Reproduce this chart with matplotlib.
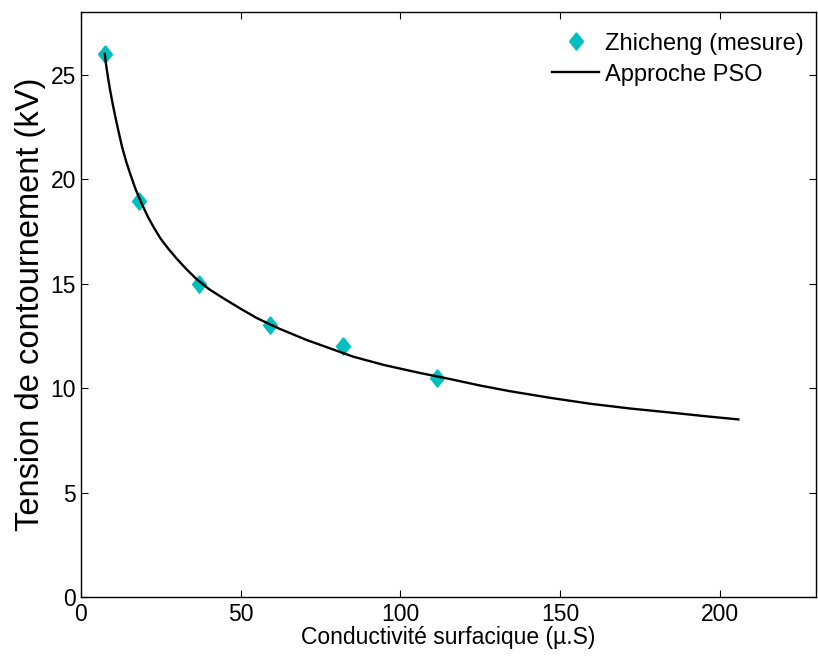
import numpy as np
import matplotlib.pyplot as plt

plt.rcParams['font.family'] = ['Liberation Sans', 'DejaVu Sans']

# mesures Zhicheng
x_mes = [7.5, 18.2, 37.0, 59.2, 82.0, 111.5]
v_mes = [26.0, 18.95, 14.96, 13.0, 12.0, 10.5]

# courbe approche PSO
x_pso = [7.5, 8.0, 8.6, 9.2, 10.0, 10.8, 11.8, 13.0, 14.3, 15.6, 17.2, 19.0,
         21.0, 23.0, 25.0, 27.5, 30.0, 33.0, 36.0, 40.0, 44.6, 50.0, 55.1, 62.0,
         70.7, 78.0, 85.3, 95.0, 106.2, 115.0, 125.0, 134.3, 147.0, 159.4, 172.0,
         184.4, 195.0, 205.7]
v_pso = [26.0, 25.4, 24.8, 24.25, 23.6, 23.0, 22.3, 21.5, 20.8, 20.2, 19.5, 18.85,
         18.2, 17.65, 17.15, 16.65, 16.2, 15.7, 15.25, 14.75, 14.3, 13.8, 13.35, 12.85,
         12.3, 11.9, 11.5, 11.1, 10.72, 10.45, 10.12, 9.85, 9.53, 9.25, 9.02,
         8.83, 8.66, 8.5]

xticks = [0, 50, 100, 150, 200]
yticks = [0, 5, 10, 15, 20, 25]

fig = plt.figure(figsize=(8.18, 6.57), dpi=100)
ax = fig.add_axes([0.0987, 0.0913, 0.8989, 0.8904])

diamond = [(0, 1), (0.8, 0), (0, -1), (-0.8, 0), (0, 1)]
ax.plot(x_mes, v_mes, linestyle='none', marker=diamond, markersize=12.5,
        color='#00bfbf', markeredgecolor='#00bfbf', label='Zhicheng (mesure)')
ax.plot(x_pso, v_pso, color='black', linewidth=1.7, label='Approche PSO')

ax.set_xlim(0, 230)
ax.set_ylim(0, 28)
ax.set_xticks(xticks)
ax.set_yticks(yticks)
ax.tick_params(direction='in', length=5, width=0.8, top=True, right=True,
               labelsize=16.5, pad=4)
ax.tick_params(axis='y', pad=3.5)
for s in ax.spines.values():
    s.set_linewidth(1.0)

ax.set_xlabel('Conductivité surfacique (µ.S)', fontsize=16.5, labelpad=0)
ax.set_ylabel('Tension de contournement (kV)', fontsize=23.5, labelpad=3)

ax.legend(loc='upper right', bbox_to_anchor=(1.0, 0.985), frameon=False,
          fontsize=17, handlelength=2.0, handletextpad=0.26, borderaxespad=0.2,
          borderpad=0.3, labelspacing=0.38)

plt.savefig('out.png', dpi=100)
